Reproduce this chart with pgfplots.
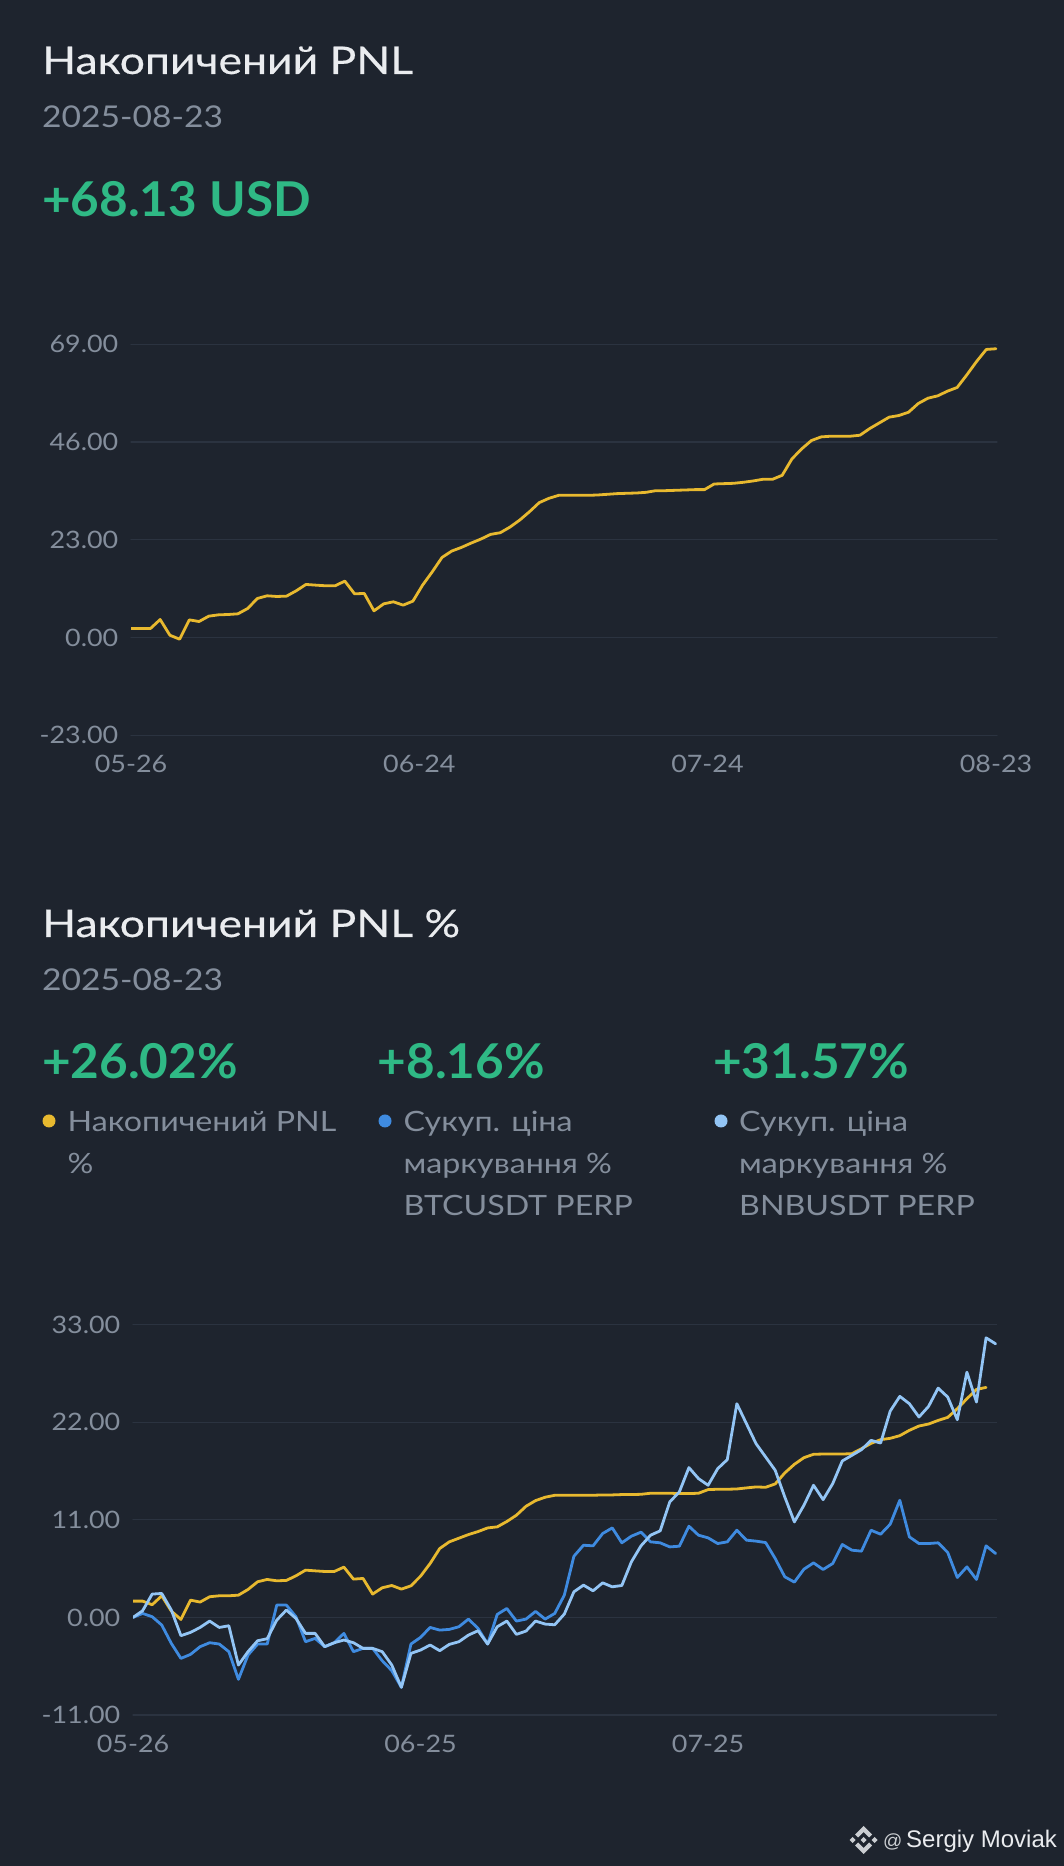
\documentclass[border=0pt]{standalone}
\usepackage{pgfplots}
\pgfplotsset{compat=1.18}
\usepackage{fontspec}
\setmainfont{Lato}
\newfontfamily\ftt[FakeStretch=1.17,FakeBold=0.5]{Lato}
\newfontfamily\ft[FakeStretch=1.15]{Lato}
\newfontfamily\fd[FakeStretch=1.12]{Lato}
\newfontfamily\fn[FakeStretch=1.12]{Lato}
\newfontfamily\fv[FakeStretch=1.03]{Lato}
\newfontfamily\wm{Liberation Sans}
\definecolor{bg}{HTML}{1E242E}
\definecolor{gridc}{HTML}{2B3340}
\definecolor{txt}{HTML}{848E9C}
\definecolor{ttl}{HTML}{EAECEF}
\definecolor{grn}{HTML}{2FB985}
\definecolor{yel}{HTML}{E8B92F}
\definecolor{btc}{HTML}{3F8BE0}
\definecolor{bnb}{HTML}{93C5F5}
\newcommand{\fs}[1]{\fontsize{#1}{#1}\selectfont}
\pgfplotsset{chart/.style={
  scale only axis, anchor=south west,
  axis line style={draw=none}, tick style={draw=none},
  ymajorgrids, grid style={gridc, line width=1.2pt},
  tick label style={font=\fn\fs{24}, text=txt},
  yticklabel style={inner sep=0pt, xshift=-12.5pt},
  xticklabel style={inner sep=0pt, yshift=-20pt, anchor=north},
  line join=round, line cap=round,
}}
\begin{document}
\begin{tikzpicture}[x=1pt,y=1pt]
\fill[bg] (0,0) rectangle (1064,1866);
% headers
\node[anchor=base west,inner sep=0,text=ttl,font=\ftt\fs{38}] at (42,1866-74) {Накопичений PNL};
\node[anchor=base west,inner sep=0,text=txt,font=\fd\fs{30}] at (42,1866-128) {2025-08-23};
\node[anchor=base west,inner sep=0,text=grn,font=\fv\fs{48}\bfseries] at (42,1866-217) {+68.13 USD};
\node[anchor=base west,inner sep=0,text=ttl,font=\ftt\fs{38}] at (42,1866-937) {Накопичений PNL \%};
\node[anchor=base west,inner sep=0,text=txt,font=\fd\fs{30}] at (42,1866-991) {2025-08-23};
\node[anchor=base west,inner sep=0,text=grn,font=\fv\fs{48}\bfseries] at (42,1866-1079) {+26.02\%};
\node[anchor=base west,inner sep=0,text=grn,font=\fv\fs{48}\bfseries] at (377.5,1866-1079) {+8.16\%};
\node[anchor=base west,inner sep=0,text=grn,font=\fv\fs{48}\bfseries] at (713,1866-1079) {+31.57\%};
\fill[yel] (49,1866-1121) circle (6.5);
\fill[btc] (385,1866-1121) circle (6.5);
\fill[bnb] (721,1866-1121) circle (6.5);
\node[anchor=base west,inner sep=0,text=txt,font=\ft\fs{28}] at (67.5,1866-1132) {Накопичений PNL};
\node[anchor=base west,inner sep=0,text=txt,font=\ft\fs{28}] at (67.5,1866-1174) {\%};
\node[anchor=base west,inner sep=0,text=txt,font=\ft\fs{28}] at (403.5,1866-1132) {Сукуп. ціна};
\node[anchor=base west,inner sep=0,text=txt,font=\ft\fs{28}] at (403.5,1866-1174) {маркування \%};
\node[anchor=base west,inner sep=0,text=txt,font=\ft\fs{28}] at (403.5,1866-1216) {BTCUSDT PERP};
\node[anchor=base west,inner sep=0,text=txt,font=\ft\fs{28}] at (739,1866-1132) {Сукуп. ціна};
\node[anchor=base west,inner sep=0,text=txt,font=\ft\fs{28}] at (739,1866-1174) {маркування \%};
\node[anchor=base west,inner sep=0,text=txt,font=\ft\fs{28}] at (739,1866-1216) {BNBUSDT PERP};
% chart 1
\begin{axis}[chart, at={(131pt,1130.7pt)}, width=866pt, height=391pt,
  xmin=0, xmax=89.1, ymin=-23, ymax=69,
  ytick={-23,0,23,46,69}, yticklabels={-23.00,0.00,23.00,46.00,69.00},
  xtick={0,29.67,59.31,89}, xticklabels={05-26,06-24,07-24,08-23}]
\addplot[yel, line width=2.8pt, no marks] coordinates {
(0,2.12)(1,2.12)(2,2.12)(3,4.24)(4,0.55)(5,-0.39)(6,4.16)(7,3.77)(8,5.03)(9,5.34)
(10,5.42)(11,5.58)(12,6.83)(13,9.19)(14,9.82)(15,9.66)(16,9.74)(17,11.0)(18,12.49)(19,12.33)
(20,12.18)(21,12.18)(22,13.28)(23,10.29)(24,10.37)(25,6.28)(26,7.93)(27,8.41)(28,7.62)(29,8.56)
(30,12.33)(31,15.48)(32,18.85)(33,20.35)(34,21.21)(35,22.23)(36,23.17)(37,24.27)(38,24.67)(39,26.0)
(40,27.65)(41,29.61)(42,31.74)(43,32.76)(44,33.46)(45,33.46)(46,33.46)(47,33.46)(48,33.54)(49,33.70)
(50,33.86)(51,33.94)(52,34.01)(53,34.17)(54,34.56)(55,34.56)(56,34.64)(57,34.72)(58,34.80)(59,34.80)
(60,36.13)(61,36.21)(62,36.29)(63,36.53)(64,36.84)(65,37.23)(66,37.23)(67,38.18)(68,42.03)(69,44.38)
(70,46.35)(71,47.21)(72,47.37)(73,47.37)(74,47.37)(75,47.60)(76,49.17)(77,50.51)(78,51.85)(79,52.24)
(80,53.02)(81,55.07)(82,56.32)(83,56.87)(84,57.97)(85,58.84)(86,61.82)(87,64.96)(88,67.79)(89,67.95)};
\end{axis}
% chart 2
\begin{axis}[chart, at={(133pt,151pt)}, width=863.6pt, height=390.3pt,
  xmin=0, xmax=90.1, ymin=-11, ymax=33,
  ytick={-11,0,11,22,33}, yticklabels={-11.00,0.00,11.00,22.00,33.00},
  xtick={0,30,60}, xticklabels={05-26,06-25,07-25}]
\addplot[yel, line width=2.8pt, no marks] coordinates {
(0,1.84)(1,1.84)(2,1.43)(3,2.44)(4,0.71)(5,-0.23)(6,1.95)(7,1.73)(8,2.33)(9,2.44)
(10,2.44)(11,2.51)(12,3.15)(13,4.02)(14,4.28)(15,4.13)(16,4.17)(17,4.69)(18,5.33)(19,5.25)
(20,5.18)(21,5.18)(22,5.67)(23,4.32)(24,4.39)(25,2.63)(26,3.34)(27,3.60)(28,3.19)(29,3.56)
(30,4.65)(31,6.08)(32,7.77)(33,8.52)(34,8.93)(35,9.34)(36,9.68)(37,10.09)(38,10.21)(39,10.81)
(40,11.52)(41,12.53)(42,13.17)(43,13.55)(44,13.77)(45,13.77)(46,13.77)(47,13.77)(48,13.77)(49,13.81)
(50,13.81)(51,13.85)(52,13.85)(53,13.88)(54,14.0)(55,14.0)(56,14.0)(57,13.96)(58,13.96)(59,14.0)
(60,14.41)(61,14.45)(62,14.45)(63,14.48)(64,14.60)(65,14.71)(66,14.67)(67,15.05)(68,16.29)(69,17.26)
(70,18.01)(71,18.39)(72,18.42)(73,18.42)(74,18.42)(75,18.46)(76,19.02)(77,19.62)(78,20.04)(79,20.19)
(80,20.49)(81,21.09)(82,21.58)(83,21.80)(84,22.21)(85,22.55)(86,23.53)(87,24.65)(88,25.70)(89,25.93)};
\addplot[btc, line width=2.8pt, no marks] coordinates {
(0,0)(1,0.45)(2,0.08)(3,-0.86)(4,-2.93)(5,-4.62)(6,-4.17)(7,-3.30)(8,-2.85)(9,-3.0)
(10,-3.86)(11,-6.98)(12,-4.24)(13,-3.0)(14,-3.0)(15,1.39)(16,1.39)(17,0.08)(18,-2.74)(19,-2.36)
(20,-3.30)(21,-2.85)(22,-1.80)(23,-3.86)(24,-3.49)(25,-3.49)(26,-4.88)(27,-6.0)(28,-7.88)(29,-3.0)
(30,-2.25)(31,-1.13)(32,-1.43)(33,-1.35)(34,-1.05)(35,-0.19)(36,-1.24)(37,-3.0)(38,0.34)(39,1.01)
(40,-0.41)(41,-0.19)(42,0.68)(43,-0.19)(44,0.45)(45,2.51)(46,6.90)(47,8.14)(48,8.07)(49,9.46)
(50,10.09)(51,8.41)(52,9.16)(53,9.61)(54,8.52)(55,8.41)(56,7.95)(57,8.03)(58,10.28)(59,9.27)
(60,8.97)(61,8.33)(62,8.52)(63,9.83)(64,8.71)(65,8.60)(66,8.44)(67,6.64)(68,4.58)(69,3.98)
(70,5.44)(71,6.15)(72,5.40)(73,6.08)(74,8.22)(75,7.58)(76,7.47)(77,9.83)(78,9.38)(79,10.51)
(80,13.21)(81,9.08)(82,8.33)(83,8.33)(84,8.41)(85,7.32)(86,4.50)(87,5.70)(88,4.28)(89,8.07)(90,7.20)};
\addplot[bnb, line width=2.8pt, no marks] coordinates {
(0,0)(1,0.75)(2,2.63)(3,2.70)(4,0.83)(5,-2.06)(6,-1.69)(7,-1.13)(8,-0.41)(9,-1.13)
(10,-0.94)(11,-5.37)(12,-3.86)(13,-2.63)(14,-2.40)(15,-0.30)(16,0.83)(17,-0.11)(18,-1.80)(19,-1.80)
(20,-3.30)(21,-2.85)(22,-2.55)(23,-2.85)(24,-3.49)(25,-3.49)(26,-3.86)(27,-5.37)(28,-7.88)(29,-4.05)
(30,-3.68)(31,-3.11)(32,-3.75)(33,-3.04)(34,-2.74)(35,-1.99)(36,-1.50)(37,-3.0)(38,-1.05)(39,-0.41)
(40,-1.91)(41,-1.54)(42,-0.41)(43,-0.75)(44,-0.83)(45,0.38)(46,2.89)(47,3.64)(48,3.0)(49,3.90)
(50,3.45)(51,3.60)(52,6.27)(53,8.07)(54,9.27)(55,9.76)(56,13.02)(57,14.15)(58,16.89)(59,15.65)
(60,14.90)(61,16.77)(62,17.79)(63,24.09)(64,21.84)(65,19.59)(66,18.09)(67,16.59)(68,13.58)(69,10.77)
(70,12.65)(71,14.90)(72,13.28)(73,15.08)(74,17.64)(75,18.27)(76,18.91)(77,19.96)(78,19.66)(79,23.26)
(80,24.92)(81,24.09)(82,22.59)(83,23.79)(84,25.85)(85,24.84)(86,22.29)(87,27.65)(88,24.28)(89,31.52)(90,30.84)};
\end{axis}
% footer
\begin{scope}[shift={(863.5,26)}, fill=ttl!85!bg]
\fill (0,14) -- (8.5,5.5) -- (5.5,2.5) -- (0,8) -- (-5.5,2.5) -- (-8.5,5.5) -- cycle;
\fill (0,-14) -- (8.5,-5.5) -- (5.5,-2.5) -- (0,-8) -- (-5.5,-2.5) -- (-8.5,-5.5) -- cycle;
\fill (0,3) -- (3,0) -- (0,-3) -- (-3,0) -- cycle;
\fill (-11,3) -- (-8,0) -- (-11,-3) -- (-14,0) -- cycle;
\fill (11,3) -- (14,0) -- (11,-3) -- (8,0) -- cycle;
\end{scope}
\node[anchor=base west,inner sep=0,text=ttl!85!bg,font=\wm\fs{19}] at (883,1866-1847) {@};
\node[anchor=base west,inner sep=0,text=ttl,font=\wm\fs{24}] at (906,1866-1847) {Sergiy Moviak};
\end{tikzpicture}
\end{document}
